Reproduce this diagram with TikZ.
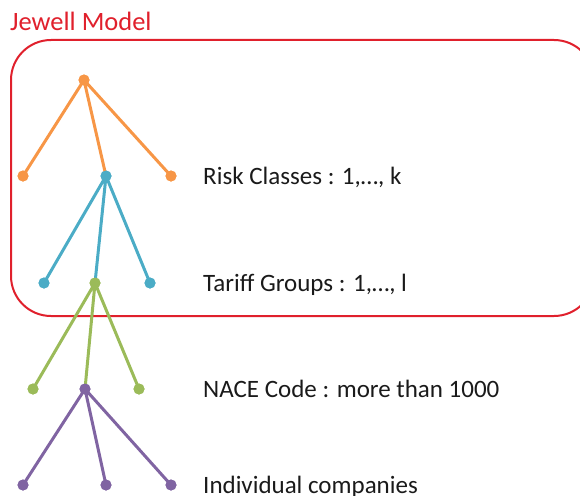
\documentclass[tikz,border=0pt]{standalone}
\usepackage{fontspec}
\setmainfont{Carlito}
\definecolor{cOrange}{HTML}{F79646}
\definecolor{cBlue}{HTML}{4BACC6}
\definecolor{cGreen}{HTML}{9BBB59}
\definecolor{cPurple}{HTML}{8064A2}
\definecolor{cRed}{HTML}{E0202C}
\definecolor{cText}{HTML}{1A1A1A}
\begin{document}
\begin{tikzpicture}[x=1pt,y=-1pt,
  dot/.style={circle,fill=#1,inner sep=0pt,minimum size=11pt},
  edge/.style={draw=#1,line width=3pt},
  lbl/.style={anchor=base west,inner sep=0pt,text=cText,font=\fontsize{25}{30}\selectfont},
  box/.style={draw=cRed,line width=2pt,rounded corners=40pt}]
\useasboundingbox (0,0) rectangle (580,495);
\clip (0,0) rectangle (580,495);
\node[anchor=base west,inner sep=0pt,text=cRed,font=\fontsize{26.5}{30}\selectfont] (title) at (10,31) {Jewell Model};
\draw[box] (11,40) rectangle (594,316);
% nodes
\node[dot=cOrange] (o0) at (84,80) {};
\node[dot=cOrange] (o1) at (23,176) {};
\node[dot=cOrange] (o3) at (171,176) {};
\node[dot=cBlue] (b0) at (106,176) {};
\node[dot=cBlue] (b1) at (44,283) {};
\node[dot=cBlue] (b3) at (150,283) {};
\node[dot=cGreen] (g0) at (95,283) {};
\node[dot=cGreen] (g1) at (33,389) {};
\node[dot=cGreen] (g3) at (139,389) {};
\node[dot=cPurple] (p0) at (85,389) {};
\node[dot=cPurple] (p1) at (23,485) {};
\node[dot=cPurple] (p2) at (106,485) {};
\node[dot=cPurple] (p3) at (171,485) {};
% edges
\draw[edge=cOrange] (o0.center) -- (o1.center) (o0.center) -- (b0.center) (o0.center) -- (o3.center);
\draw[edge=cBlue] (b0.center) -- (b1.center) (b0.center) -- (g0.center) (b0.center) -- (b3.center);
\draw[edge=cGreen] (g0.center) -- (g1.center) (g0.center) -- (p0.center) (g0.center) -- (g3.center);
\draw[edge=cPurple] (p0.center) -- (p1.center) (p0.center) -- (p2.center) (p0.center) -- (p3.center);
% redraw dots on top
\foreach \n/\c in {o0/cOrange,o1/cOrange,o3/cOrange,b0/cBlue,b1/cBlue,b3/cBlue,g0/cGreen,g1/cGreen,g3/cGreen,p0/cPurple,p1/cPurple,p2/cPurple,p3/cPurple}
  \fill[\c] (\n.center) circle (5.5pt);
% labels
\node[lbl] (t1) at (203,184) {Risk Classes : 1,…, k};
\node[lbl] (t2) at (203,291) {Tariff Groups : 1,…, l};
\node[lbl] (t3) at (203,397) {NACE Code : more than 1000};
\node[lbl] (t4) at (203,493) {Individual companies};
\end{tikzpicture}
\end{document}
